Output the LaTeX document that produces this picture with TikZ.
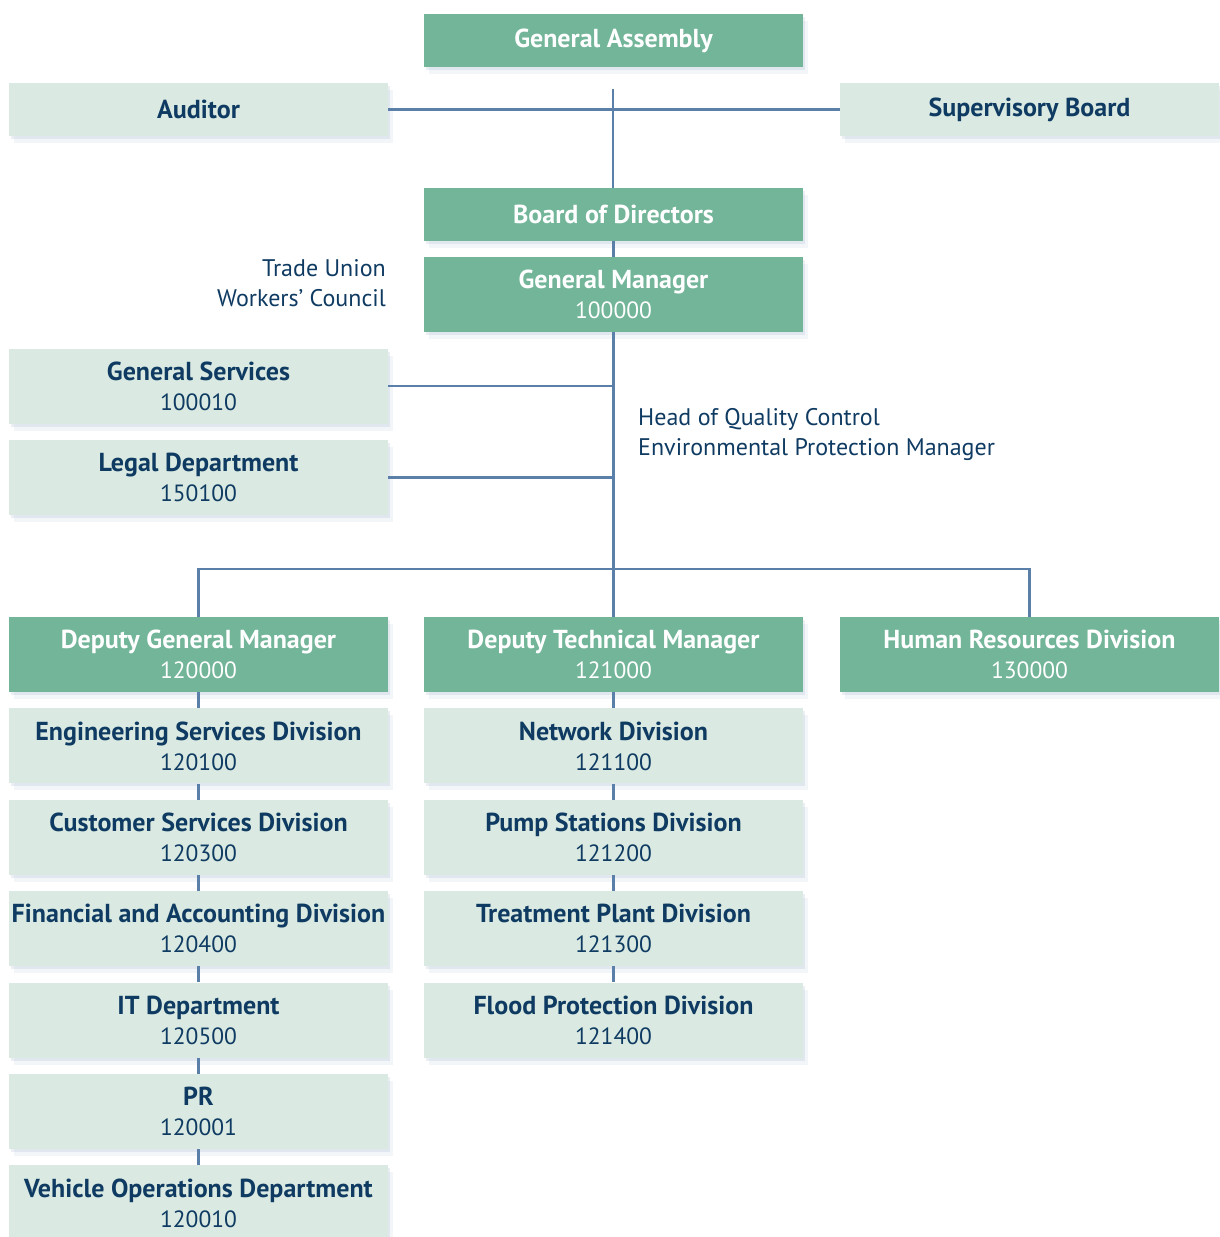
\documentclass[tikz,border=0pt]{standalone}
\usepackage{fontspec}
\setmainfont{PT Sans}
\usetikzlibrary{positioning,shadows}
\definecolor{OrgGreen}{RGB}{114,181,153}
\definecolor{OrgLight}{RGB}{218,234,226}
\definecolor{OrgLine}{RGB}{90,127,168}
\definecolor{OrgText}{RGB}{15,59,98}
\newcommand\uname[1]{{\fontsize{26}{30}\selectfont\bfseries #1}}

\begin{document}
\begin{tikzpicture}[x=1pt,y=-1pt,
node distance=16pt,
unit/.style={rectangle,minimum width=379pt,minimum height=75pt,align=center,inner sep=0pt,
font=\fontsize{23.5}{30}\selectfont,
drop shadow={shadow xshift=5pt,shadow yshift=-7pt,opacity=.07,fill=OrgLine},
drop shadow={shadow xshift=2pt,shadow yshift=-3pt,opacity=.12,fill=OrgLine}},
head/.style={unit,fill=OrgGreen,text=white},
dept/.style={unit,fill=OrgLight,text=OrgText},
flat/.style={minimum height=53pt},
note/.style={font=\fontsize{24}{30}\selectfont,text=OrgText,inner sep=0pt},
link/.style={draw=OrgLine,line width=2.2pt}
]
\useasboundingbox (0,0) rectangle (1219,1237);
\draw[link] (613,89) coordinate (top) -- (613,188);
\node[head,flat] (ga) at (613.5,40.5) {\uname{General Assembly}};
\node[dept,flat] (aud) at (198.5,109.5) {\uname{Auditor}};
\node[dept,flat] (sb) at (1029.5,109.5) {\uname{Supervisory Board}};
\node[head,flat] (bod) at (613.5,214.5) {\uname{Board of Directors}};
\node[head] (gm) at (613.5,294.5) {\uname{General Manager}\\100000};
\node[note,anchor=east,align=right] (tu) at (386,283) {Trade Union\\Workers’ Council};
\node[dept] (gs) at (198.5,386) {\uname{General Services}\\100010};
\node[dept] (ld) at (198.5,477.5) {\uname{Legal Department}\\150100};
\node[note,anchor=west,align=left] (qc) at (638,434) {Head of Quality Control\\Environmental Protection Manager};
\node[head] (dgm) at (198.5,654.5) {\uname{Deputy General Manager}\\120000};
\node[head] (dtm) at (613.5,654.5) {\uname{Deputy Technical Manager}\\121000};
\node[head] (hrd) at (1029.5,654.5) {\uname{Human Resources Division}\\130000};
\node[dept,below=of dgm] (esd) {\uname{Engineering Services Division}\\120100};
\node[dept,below=of esd] (csd) {\uname{Customer Services Division}\\120300};
\node[dept,below=of csd] (fad) {\uname{Financial and Accounting Division}\\120400};
\node[dept,below=of fad] (itd) {\uname{IT Department}\\120500};
\node[dept,below=of itd] (pr) {\uname{PR}\\120001};
\node[dept,below=of pr] (vod) {\uname{Vehicle Operations Department}\\120010};
\node[dept,below=of dtm] (net) {\uname{Network Division}\\121100};
\node[dept,below=of net] (psd) {\uname{Pump Stations Division}\\121200};
\node[dept,below=of psd] (tpd) {\uname{Treatment Plant Division}\\121300};
\node[dept,below=of tpd] (fpd) {\uname{Flood Protection Division}\\121400};
\draw[link] (aud.east) -- (sb.west);
\draw[link] (bod) -- (gm); \draw[link] (gm.south) -- (dtm.north);
\draw[link] (gs.east) -- (gs.east -| gm.south); \draw[link] (ld.east) -- (ld.east -| gm.south);
\draw[link] (dgm.north) -- ++(0,-48) -| (hrd.north);
\draw[link] (dgm) -- (esd); \draw[link] (esd) -- (csd); \draw[link] (csd) -- (fad);
\draw[link] (fad) -- (itd); \draw[link] (itd) -- (pr); \draw[link] (pr) -- (vod);
\draw[link] (dtm) -- (net); \draw[link] (net) -- (psd); \draw[link] (psd) -- (tpd); \draw[link] (tpd) -- (fpd);
\end{tikzpicture}
\end{document}
